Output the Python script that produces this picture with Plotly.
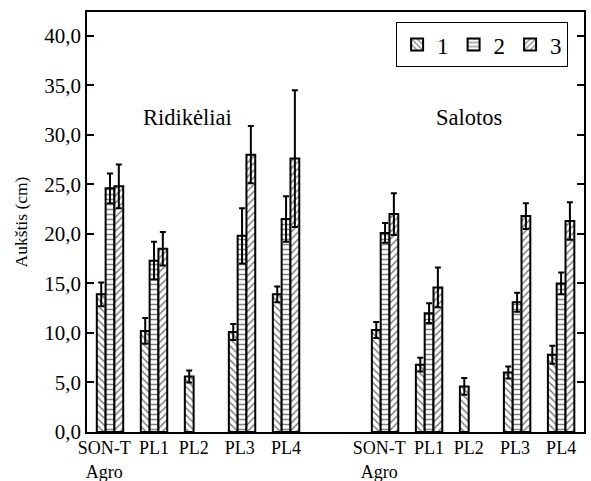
import plotly.graph_objects as go

groups = ["Ridikėliai", "Salotos"]
categories = ["SON-T<br>Agro", "PL1", "PL2", "PL3", "PL4"]
series_names = ["1", "2", "3"]

# Ridikėliai values (series 1,2,3) and error
rid_s1 = [13.9, 10.2, 5.6, 10.1, 13.9]
rid_s2 = [24.6, 17.3, None, 19.8, 21.5]
rid_s3 = [24.8, 18.5, None, 28.0, 27.6]
rid_e1 = [1.2, 1.3, 0.6, 0.8, 0.8]
rid_e2 = [1.5, 1.9, None, 2.8, 2.3]
rid_e3 = [2.2, 1.7, None, 2.9, 6.9]

# Salotos values
sal_s1 = [10.3, 6.8, 4.6, 6.0, 7.8]
sal_s2 = [20.1, 12.0, None, 13.1, 15.0]
sal_s3 = [22.0, 14.6, None, 21.8, 21.3]
sal_e1 = [0.8, 0.7, 0.85, 0.6, 0.9]
sal_e2 = [1.0, 1.0, None, 0.95, 1.1]
sal_e3 = [2.1, 2.0, None, 1.3, 1.9]

yticks = [0, 5, 10, 15, 20, 25, 30, 35, 40]

group_offsets = [0, 6.25]
xpos = [g + i for g in group_offsets for i in range(len(categories))]
label_shift = [-0.13, 0, -0.1, -0.05, 0]
tickpos = [g + i + label_shift[i] for g in group_offsets for i in range(len(categories))]
xlabels = categories + categories

vals = [rid_s1 + sal_s1, rid_s2 + sal_s2, rid_s3 + sal_s3]
errs = [rid_e1 + sal_e1, rid_e2 + sal_e2, rid_e3 + sal_e3]
shapes = ["\\", "-", "/"]

serif = "Liberation Serif, Times New Roman, DejaVu Serif, serif"
fig = go.Figure()
for name, v, e, sh in zip(series_names, vals, errs, shapes):
    fig.add_trace(go.Bar(
        x=xpos, y=v, name=name,
        marker=dict(color="white", line=dict(color="black", width=2),
                    pattern=dict(shape=sh, fgcolor="black", bgcolor="white",
                                 size=5, solidity=0.3)),
        error_y=dict(type="data", array=e, visible=True, color="black",
                     thickness=2, width=3),
    ))

fig.add_annotation(x=1.77, y=31.7, text=groups[0], showarrow=False,
                   font=dict(family=serif, size=22.5, color="black"))
fig.add_annotation(x=8.16, y=31.7, text=groups[1], showarrow=False,
                   font=dict(family=serif, size=22.5, color="black"))

fig.update_layout(
    width=591, height=481,
    margin=dict(l=87, r=7, t=12, b=49),
    paper_bgcolor="white", plot_bgcolor="white",
    barmode="group", bargap=0.4, bargroupgap=0,
    separators=", ",
    font=dict(family=serif, size=18, color="black"),
    legend=dict(orientation="h", x=0.968, xanchor="right", y=0.976, yanchor="top",
                bordercolor="black", borderwidth=1, bgcolor="white",
                font=dict(family=serif, size=23), traceorder="normal",
                itemwidth=30, tracegroupgap=0),
    xaxis=dict(range=[-0.523, 10.77], tickvals=tickpos, ticktext=xlabels,
               tickangle=0, automargin=False, ticklabelstandoff=-1,
               showline=True, linecolor="black", linewidth=1.5, mirror=True,
               ticks="", showgrid=False, zeroline=False,
               tickfont=dict(family=serif, size=18)),
    yaxis=dict(range=[0, 42.4], tickvals=yticks, tickformat=".1f",
               automargin=False,
               showline=True, linecolor="black", linewidth=1.5, mirror="ticks",
               ticks="inside", ticklen=7, tickcolor="black", tickwidth=1.5,
               showgrid=False, zeroline=False,
               tickfont=dict(family=serif, size=21),
               title=dict(text="Aukštis (cm)", font=dict(family=serif, size=17.5),
                          standoff=12)),
)

fig.write_html("out.html", config={"displayModeBar": False},
               post_script="document.body.style.margin='0';")
